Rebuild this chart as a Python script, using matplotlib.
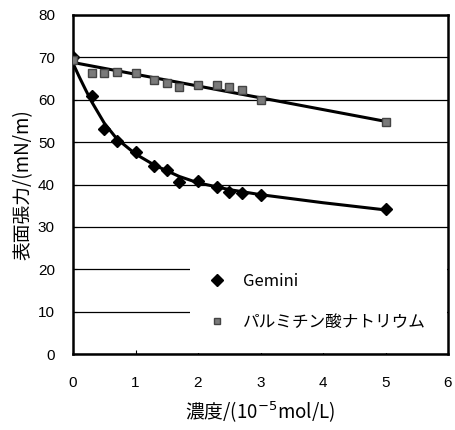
import matplotlib
matplotlib.use("Agg")
import matplotlib.pyplot as plt
from matplotlib.lines import Line2D

plt.rcParams['font.family'] = ['Liberation Sans', 'Noto Sans CJK JP', 'DejaVu Sans']

# measured data
gemini_x = [0, 0.3, 0.5, 0.7, 1.0, 1.3, 1.5, 1.7, 2.0, 2.3, 2.5, 2.7, 3.0, 5.0]
gemini_y = [70.0, 60.8, 53.0, 50.2, 47.6, 44.4, 43.4, 40.6, 40.8, 39.5, 38.3, 37.9, 37.5, 34.2]

palm_x = [0, 0.3, 0.5, 0.7, 1.0, 1.3, 1.5, 1.7, 2.0, 2.3, 2.5, 2.7, 3.0, 5.0]
palm_y = [69.4, 66.4, 66.4, 66.6, 66.3, 64.6, 64.0, 63.1, 63.4, 63.4, 62.9, 62.4, 60.0, 54.8]

# trend lines
gemini_fit_x = [0, 0.1, 0.2, 0.3, 0.5, 0.7, 1.0, 1.3, 1.7, 2.0, 2.5, 3.0, 4.0, 5.0]
gemini_fit_y = [68.6, 65.4, 62.4, 59.5, 54.5, 50.8, 47.2, 44.6, 41.9, 40.4, 38.8, 37.6, 35.7, 34.0]
palm_fit_x = [0, 5.0]
palm_fit_y = [68.8, 54.9]

x_ticks = [0, 1, 2, 3, 4, 5, 6]
y_ticks = [0, 10, 20, 30, 40, 50, 60, 70, 80]

legend_labels = ['Gemini', 'パルミチン酸ナトリウム']
xlabel = '濃度/(10$^{-5}$mol/L)'
ylabel = '表面張力/(mN/m)'

fig = plt.figure(figsize=(4.55, 4.3), dpi=100)
ax = fig.add_axes([73/455, 1-354/430, 375/455, 339/430])

ax.set_xlim(0, 6)
ax.set_ylim(0, 80)
ax.set_xticks(x_ticks)
ax.set_yticks(y_ticks)
ax.yaxis.grid(True, color='black', linewidth=0.9)
ax.set_axisbelow(True)

ax.plot(gemini_fit_x, gemini_fit_y, color='black', linewidth=2.2, zorder=3)
ax.plot(palm_fit_x, palm_fit_y, color='black', linewidth=2.2, zorder=3)
ax.plot(gemini_x, gemini_y, linestyle='none', marker='D', markersize=6.5,
        color='black', zorder=4)
ax.plot(palm_x, palm_y, linestyle='none', marker='s', markersize=5.5,
        markerfacecolor='#7a7a7a', markeredgecolor='#444444', zorder=4)

for s in ax.spines.values():
    s.set_linewidth(1.8)

ax.tick_params(axis='x', direction='in', length=3, pad=16, labelsize=11)
ax.tick_params(axis='y', direction='in', length=3, pad=13, labelsize=11)

ax.set_xlabel(xlabel, fontsize=13.5, family=['Noto Sans CJK JP', 'DejaVu Sans'], labelpad=7)
ax.set_ylabel(ylabel, fontsize=13.5, family=['Noto Sans CJK JP', 'DejaVu Sans'], labelpad=3)

handles = [
    Line2D([], [], linestyle='none', marker='D', markersize=6.5, color='black'),
    Line2D([], [], linestyle='none', marker='s', markersize=5,
           markerfacecolor='#7a7a7a', markeredgecolor='#444444'),
]
leg = ax.legend(handles, legend_labels, loc='lower left',
                bbox_to_anchor=(0.312, 0.004, 0.684, 0.34), mode='expand',
                frameon=True, fancybox=False, framealpha=1, edgecolor='none',
                facecolor='white', handletextpad=1.3, labelspacing=1.45,
                borderpad=1.3, borderaxespad=0.0, handlelength=0.6,
                prop={'family': ['Noto Sans CJK JP', 'DejaVu Sans'], 'size': 12})
leg.set_zorder(2.2)

fig.savefig('out.png', dpi=100)
